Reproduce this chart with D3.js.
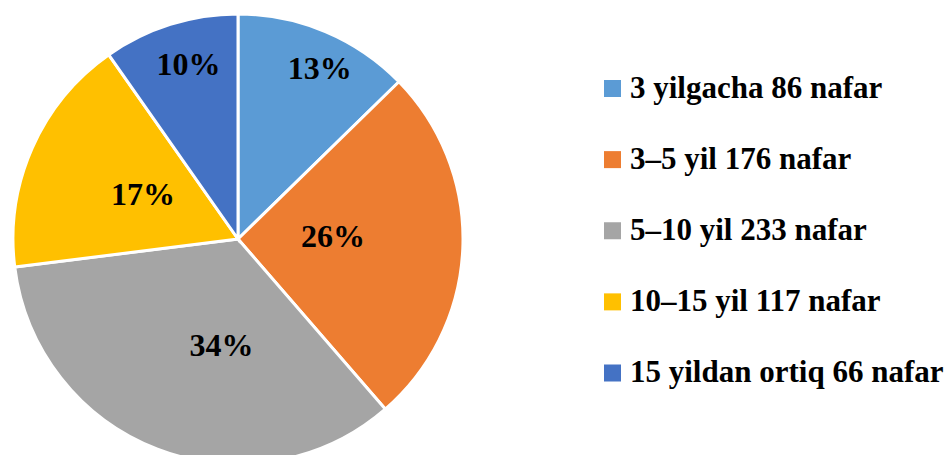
<!DOCTYPE html>
<html>
<head>
<meta charset="utf-8">
<script src="https://d3js.org/d3.v7.min.js"></script>
<style>
  body { margin: 0; background: #fff; }
  svg text { font-family: "Liberation Serif", "Times New Roman", serif; font-weight: bold; fill: #000; }
</style>
</head>
<body>
<div id="chart"></div>
<script>
// Ish staji bo'yicha taqsimot
const categories = ['3 yilgacha 86 nafar', '3\u20135 yil 176 nafar', '5\u201310 yil 233 nafar', '10\u201315 yil 117 nafar', '15 yildan ortiq 66 nafar'];
const counts = [86, 176, 233, 117, 66];
const percentLabels = ['13%', '26%', '34%', '17%', '10%'];
const colors = ['#5B9BD5', '#ED7D31', '#A5A5A5', '#FFC000', '#4472C4'];

// where Excel put each label: share of radius, and turn from the slice middle (deg)
const labelRadius = [0.842, 0.422, 0.475, 0.467, 0.808];
const labelTurn = [2.7, -4.2, -12.1, 1.4, 1.7];

const W = 952, H = 455;
const cx = 238, cy = 239, radius = 225;

const svg = d3.select('#chart').append('svg')
    .attr('width', W)
    .attr('height', H);

const pie = d3.pie().sort(null).value(d => d);
const arcs = pie(counts);
const arc = d3.arc().innerRadius(0).outerRadius(radius);

const g = svg.append('g').attr('transform', `translate(${cx},${cy})`);

g.selectAll('path')
    .data(arcs)
    .enter()
    .append('path')
    .attr('d', arc)
    .attr('fill', (d, i) => colors[i])
    .attr('stroke', '#fff')
    .attr('stroke-width', 3)
    .attr('stroke-linejoin', 'miter');

// Percent labels
g.selectAll('.pct')
    .data(arcs)
    .enter()
    .append('text')
    .attr('class', 'pct')
    .attr('transform', (d, i) => {
        const a = (d.startAngle + d.endAngle) / 2 + labelTurn[i] * Math.PI / 180;
        const p = d3.pointRadial(a, radius * labelRadius[i]);
        return `translate(${p[0]},${p[1]})`;
    })
    .attr('text-anchor', 'middle')
    .attr('dominant-baseline', 'central')
    .style('font-size', '32px')
    .text((d, i) => percentLabels[i]);

// Legend
const legendY = d3.scalePoint()
    .domain(categories)
    .range([88.5, 373]);

const legend = svg.append('g').attr('transform', 'translate(604,0)');

const items = legend.selectAll('.item')
    .data(categories)
    .enter()
    .append('g')
    .attr('class', 'item')
    .attr('transform', d => `translate(0,${legendY(d)})`);

items.append('rect')
    .attr('x', 0)
    .attr('y', -8.5)
    .attr('width', 17)
    .attr('height', 17)
    .attr('fill', (d, i) => colors[i]);

items.append('text')
    .attr('x', 26)
    .attr('y', 9)
    .style('font-size', '31px')
    .text(d => d);
</script>
</body>
</html>
